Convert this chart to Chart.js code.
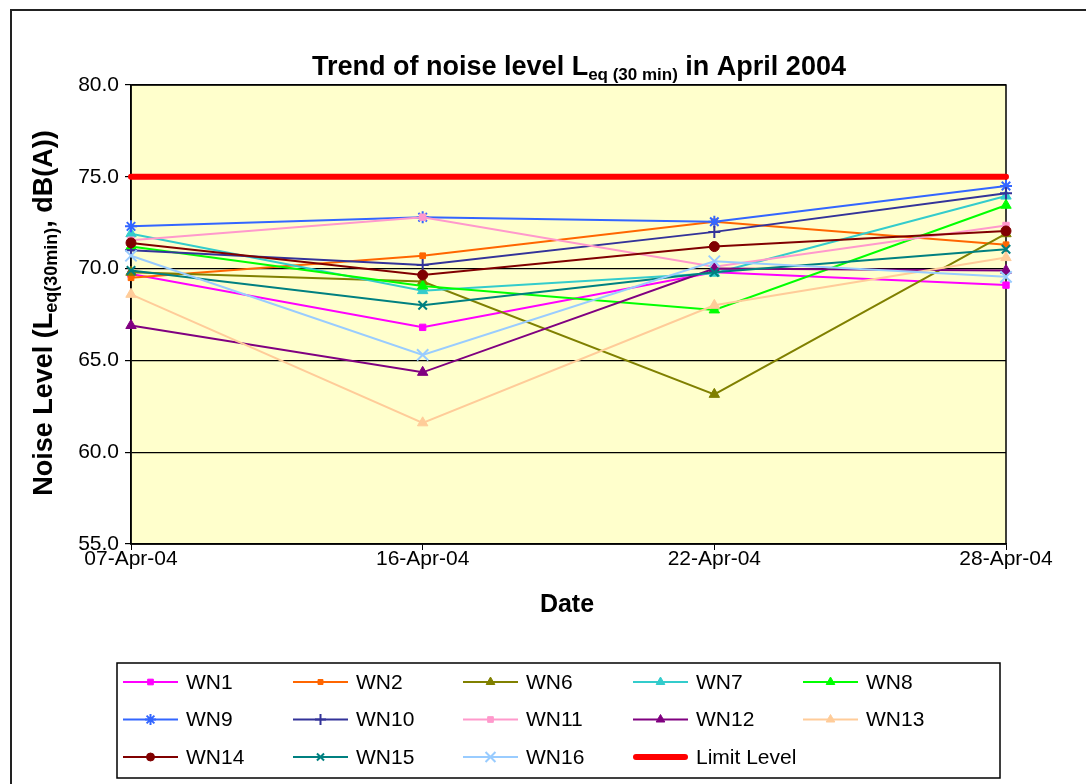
<!DOCTYPE html>
<html lang="en">
<head>
<meta charset="UTF-8">
<title>Trend of noise level April 2004</title>
<script src="https://cdn.jsdelivr.net/npm/chart.js"></script>
<style>
html, body { margin: 0; padding: 0; background: #fff; }
#wrap { position: relative; width: 1086px; height: 784px; overflow: hidden; }
#frame { position: absolute; left: 10px; top: 9px; width: 1120px; height: 820px; border: 2px solid #222; box-sizing: border-box; }
#myChart { position: absolute; left: 0; top: 0; }
</style>
</head>
<body>
<div id="wrap">
  <div id="frame"></div>
  <canvas id="myChart" width="1086" height="784"></canvas>
</div>
<script>
// data
const dates = ['07-Apr-04', '16-Apr-04', '22-Apr-04', '28-Apr-04'];
const wn1  = [69.7, 66.8, 69.8, 69.1];
const wn2  = [69.5, 70.7, 72.55, 71.3];
const wn6  = [69.8, 69.3, 63.15, 71.9];
const wn7  = [71.9, 68.8, 69.75, 73.95];
const wn8  = [71.2, 69.05, 67.75, 73.45];
const wn9  = [72.3, 72.8, 72.55, 74.5];
const wn10 = [71.0, 70.2, 72.0, 74.1];
const wn11 = [71.55, 72.8, 70.1, 72.35];
const wn12 = [66.9, 64.35, 70.0, 69.9];
const wn13 = [68.6, 61.6, 68.0, 70.6];
const wn14 = [71.4, 69.65, 71.2, 72.05];
const wn15 = [69.9, 68.0, 69.8, 71.05];
const wn16 = [70.7, 65.3, 70.4, 69.55];
const limitLevel = [75, 75, 75, 75];
const yMin = 55, yMax = 80, yStep = 5;

const seriesNames = ['WN1', 'WN2', 'WN6', 'WN7', 'WN8', 'WN9', 'WN10', 'WN11', 'WN12', 'WN13', 'WN14', 'WN15', 'WN16', 'Limit Level'];
const seriesData = [wn1, wn2, wn6, wn7, wn8, wn9, wn10, wn11, wn12, wn13, wn14, wn15, wn16, limitLevel];

// look of each series (Excel style)
const colors = ['#FF00FF', '#FF6600', '#808000', '#33CCCC', '#00FF00', '#3366FF', '#333399', '#FF99CC', '#800080', '#FFCC99', '#800000', '#008080', '#99CCFF', '#FF0000'];
const markers = ['rect', 'rect', 'triangle', 'triangle', 'triangle', 'star', 'cross', 'rect', 'triangle', 'triangle', 'circle', 'crossRot', 'crossRot', false];
const markerSize = [4.5, 4, 6, 6, 6, 6, 6, 4.5, 6, 6, 5, 6, 8, 0];
const legendMarkerSize = [4, 3.5, 5, 5, 5, 5.5, 5.5, 4, 5, 5, 4, 5, 7, 0];

const FONT = "'Liberation Sans', Arial, sans-serif";

const datasets = seriesNames.map((name, i) => ({
    label: name,
    data: seriesData[i],
    borderColor: colors[i],
    backgroundColor: colors[i],
    borderWidth: i === 13 ? 6 : 2,
    borderCapStyle: 'round',
    pointStyle: markers[i],
    pointRadius: markerSize[i],
    pointHoverRadius: markerSize[i],
    pointBorderWidth: markers[i] === 'star' || markers[i] === 'cross' || markers[i] === 'crossRot' ? 2 : 1,
    tension: 0,
    order: seriesNames.length - i   // later series drawn on top, like excel
}));

// draws a string with one subscript part, centered on cx at baseline base
function drawRich(ctx, parts, cx, base) {
    let w = 0;
    parts.forEach(p => { ctx.font = p.f; p.w = ctx.measureText(p.t).width; w += p.w; });
    let x = cx - w / 2;
    ctx.textAlign = 'left';
    ctx.textBaseline = 'alphabetic';
    parts.forEach(p => { ctx.font = p.f; ctx.fillText(p.t, x, base + (p.dy || 0)); x += p.w; });
}

const decorPlugin = {
    id: 'decor',
    beforeDraw(chart) {
        const { ctx, chartArea: a } = chart;
        ctx.save();
        ctx.fillStyle = '#FFFFCC';
        ctx.fillRect(a.left, a.top, a.right - a.left, a.bottom - a.top);
        ctx.restore();
    },
    beforeDatasetsDraw(chart) {
        const { ctx, chartArea: a } = chart;
        ctx.save();
        ctx.strokeStyle = '#000';
        ctx.lineWidth = 1.5;
        ctx.strokeRect(a.left, a.top, a.right - a.left, a.bottom - a.top);
        ctx.restore();
    },
    afterDraw(chart) {
        const ctx = chart.ctx;
        ctx.save();
        ctx.fillStyle = '#000';
        // title
        drawRich(ctx, [
            { t: 'Trend of noise level L', f: 'bold 27px ' + FONT },
            { t: 'eq (30 min)', f: 'bold 17px ' + FONT, dy: 5 },
            { t: ' in April 2004', f: 'bold 27px ' + FONT }
        ], 579, 75);
        // x title
        drawRich(ctx, [{ t: 'Date', f: 'bold 25px ' + FONT }], 567, 612);
        // y title
        ctx.translate(52, 313);
        ctx.rotate(-Math.PI / 2);
        drawRich(ctx, [
            { t: 'Noise Level (L', f: 'bold 27px ' + FONT },
            { t: 'eq(30min)', f: 'bold 18px ' + FONT, dy: 5 },
            { t: ', dB(A))', f: 'bold 27px ' + FONT }
        ], 0, 0);
        ctx.restore();

        // legend box, 5 columns
        ctx.save();
        ctx.strokeStyle = '#000';
        ctx.lineWidth = 1.5;
        ctx.strokeRect(117, 663, 883, 115);
        chart.data.datasets.forEach((ds, i) => {
            const col = i % 5, row = Math.floor(i / 5);
            const x0 = 123 + col * 170;
            const y = 682 + row * 37.5;
            ctx.strokeStyle = ds.borderColor;
            ctx.fillStyle = ds.backgroundColor;
            ctx.lineWidth = ds.borderWidth;
            ctx.lineCap = i === 13 ? 'round' : 'butt';
            ctx.beginPath();
            ctx.moveTo(x0 + (i === 13 ? 3 : 0), y);
            ctx.lineTo(x0 + 55 - (i === 13 ? 3 : 0), y);
            ctx.stroke();
            if (ds.pointStyle) {
                ctx.lineWidth = ds.pointBorderWidth;
                Chart.helpers.drawPoint(ctx, { pointStyle: ds.pointStyle, radius: legendMarkerSize[i], rotation: 0, borderWidth: ds.pointBorderWidth }, x0 + 27.5, y);
            }
            ctx.fillStyle = '#000';
            ctx.font = '21px ' + FONT;
            ctx.textAlign = 'left';
            ctx.textBaseline = 'middle';
            ctx.fillText(ds.label, x0 + 63, y + 1);
        });
        ctx.restore();
    }
};

const ctx = document.querySelector('#myChart');
const noiseChart = new Chart(ctx, {
    type: 'line',
    data: { labels: dates, datasets: datasets },
    options: {
        responsive: false,
        animation: false,
        layout: { padding: { left: 0, top: 85, right: 80, bottom: 200 } },
        plugins: {
            legend: { display: false },
            title: { display: false },
            tooltip: { enabled: false }
        },
        scales: {
            x: {
                type: 'category',
                offset: false,
                afterFit: s => { s.height = 40; },
                grid: { drawOnChartArea: false, drawTicks: true, tickLength: 6, color: '#000' },
                border: { color: '#000', width: 1.5 },
                ticks: { color: '#000', font: { family: FONT, size: 21 }, padding: -3, maxRotation: 0, autoSkip: false }
            },
            y: {
                min: yMin,
                max: yMax,
                afterFit: s => { s.width = 131; },
                grid: { color: '#000', lineWidth: 1.2, tickLength: 6 },
                border: { color: '#000', width: 1.5 },
                ticks: {
                    stepSize: yStep,
                    color: '#000',
                    padding: 6,
                    font: { family: FONT, size: 21 },
                    callback: v => v.toFixed(1)
                }
            }
        }
    },
    plugins: [decorPlugin]
});
</script>
</body>
</html>
